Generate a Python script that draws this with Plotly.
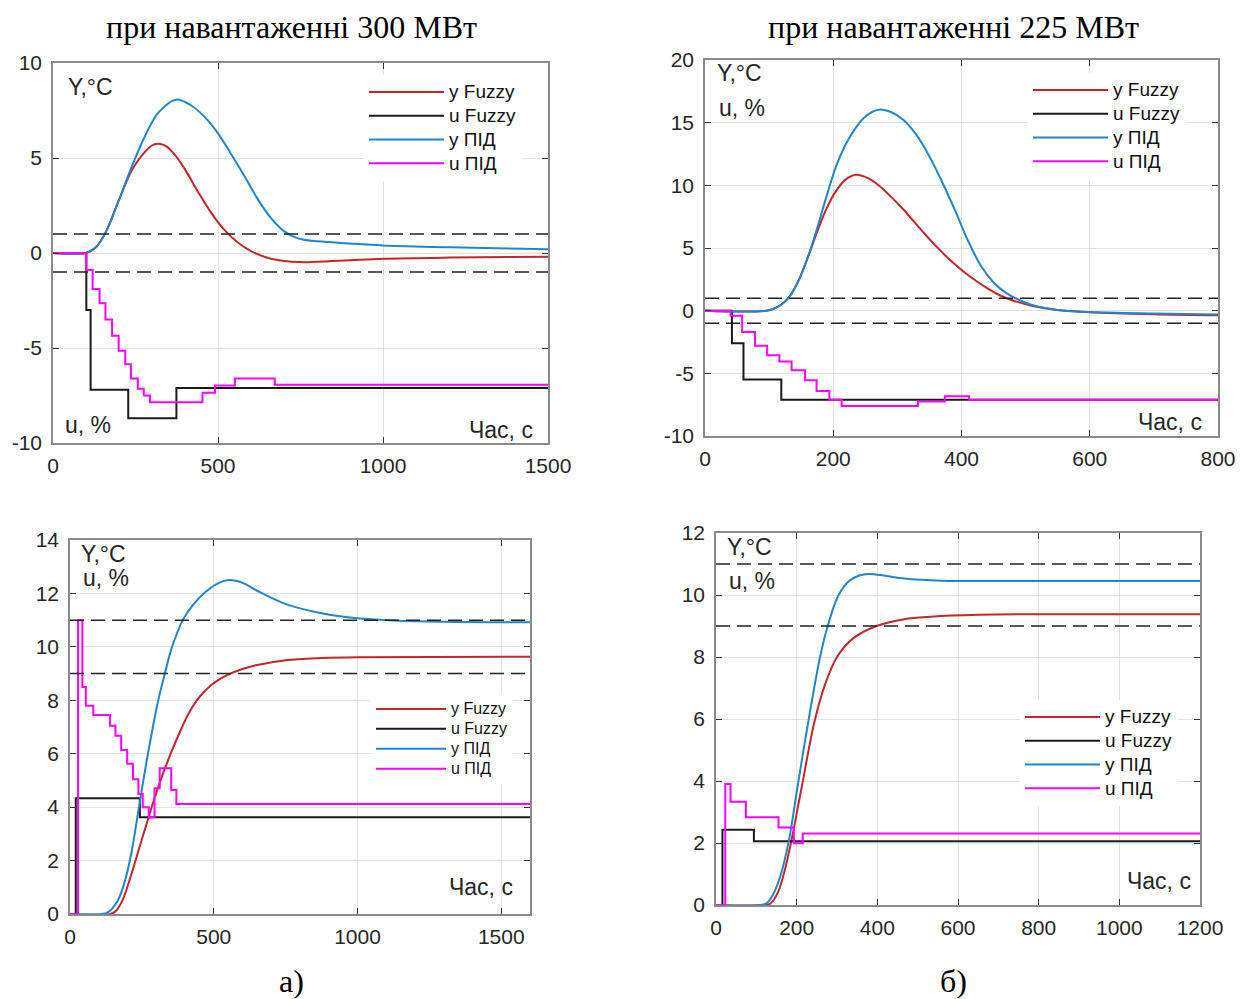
import plotly.graph_objects as go

# ---------------- DATA ----------------
# Panel a-top: 300 MW, disturbance
t1_range = [0, 1500]
y1_ticks = [-10, -5, 0, 5, 10]
y1_ticklabels = ["-10", "-5", "0", "5", "10"]
x1_ticks = [0, 500, 1000, 1500]
band1 = [-1, 1]
yfz1_t = [0, 100, 130, 160, 200, 240, 280, 305, 325, 345, 370, 400, 440, 480, 520, 560, 600, 650, 700, 750, 800, 900, 1000, 1200, 1500]
yfz1_v = [0, 0, 0.3, 1.1, 2.8, 4.4, 5.35, 5.7, 5.74, 5.6, 5.15, 4.4, 3.2, 2.1, 1.2, 0.55, 0.1, -0.25, -0.42, -0.48, -0.46, -0.38, -0.3, -0.24, -0.2]
ypid1_t = [0, 100, 130, 160, 200, 240, 280, 320, 372, 420, 460, 500, 540, 580, 620, 660, 700, 730, 760, 800, 900, 1000, 1200, 1500]
ypid1_v = [0, 0, 0.3, 1.1, 2.8, 4.6, 6.2, 7.4, 8.07, 7.75, 7.15, 6.3, 5.2, 4.05, 2.85, 1.85, 1.15, 0.85, 0.7, 0.62, 0.5, 0.4, 0.3, 0.2]
ufz1_t = [0, 101, 114, 228, 374, 1500]
ufz1_v = [0, -3.0, -7.2, -8.7, -7.1, -7.1]
upid1_t = [0, 101, 120, 141, 159, 179, 199, 219, 236, 257, 275, 294, 453, 491, 551, 672, 1500]
upid1_v = [0, -0.9, -1.9, -2.65, -3.5, -4.35, -5.15, -5.85, -6.6, -7.15, -7.5, -7.85, -7.35, -6.97, -6.6, -6.93, -6.93]

# Panel b-top: 225 MW, disturbance
t2_range = [0, 800]
y2_ticks = [-10, -5, 0, 5, 10, 15, 20]
y2_ticklabels = ["-10", "-5", "0", "5", "10", "15", "20"]
x2_ticks = [0, 200, 400, 600, 800]
band2 = [-1, 1]
yfz2_t = [0, 100, 115, 130, 145, 160, 175, 190, 205, 220, 236, 255, 272, 290, 308, 326, 344, 362, 380, 410, 440, 463, 487, 511, 550, 600, 700, 800]
yfz2_v = [0, 0.03, 0.35, 1.0, 2.3, 4.2, 6.3, 8.2, 9.6, 10.5, 10.85, 10.55, 9.95, 9.1, 8.15, 7.1, 6.05, 5.05, 4.15, 2.85, 1.8, 1.15, 0.7, 0.38, 0.05, -0.12, -0.28, -0.37]
ypid2_t = [0, 100, 115, 130, 145, 160, 175, 190, 205, 224, 248, 272, 290, 310, 330, 350, 370, 390, 410, 430, 450, 470, 490, 510, 550, 600, 700, 800]
ypid2_v = [0, 0.03, 0.35, 1.0, 2.3, 4.2, 6.6, 9.2, 11.6, 13.7, 15.4, 16.05, 15.85, 15.2, 14.0, 12.3, 10.25, 8.0, 5.6, 3.6, 2.25, 1.4, 0.85, 0.45, 0.05, -0.1, -0.22, -0.3]
ufz2_t = [0, 42, 60, 119, 800]
ufz2_v = [0, -2.6, -5.5, -7.1, -7.1]
upid2_t = [0, 40, 58, 78, 97, 116, 135, 156, 174, 194, 213, 332, 374, 412, 800]
upid2_v = [0, -0.4, -1.7, -2.8, -3.55, -4.05, -4.75, -5.55, -6.4, -7.1, -7.6, -7.25, -6.82, -7.1, -7.1]

# Panel a-bottom: 300 MW, setpoint step
t3_range = [0, 1600]
y3_ticks = [0, 2, 4, 6, 8, 10, 12, 14]
y3_ticklabels = ["0", "2", "4", "6", "8", "10", "12", "14"]
x3_ticks = [0, 500, 1000, 1500]
band3 = [9, 11]
yfz3_t = [0, 140, 160, 184, 205, 228, 250, 270, 290, 320, 352, 390, 415, 440, 465, 495, 525, 552, 600, 651, 751, 875, 1000, 1600]
yfz3_v = [0, 0, 0.12, 0.55, 1.2, 2.0, 2.8, 3.5, 4.2, 5.15, 6.05, 7.0, 7.55, 7.98, 8.3, 8.6, 8.82, 8.97, 9.17, 9.32, 9.5, 9.58, 9.61, 9.63]
ypid3_t = [0, 110, 130, 166, 190, 212, 234, 252, 271, 290, 309, 330, 352, 372, 392, 430, 471, 510, 552, 600, 651, 751, 875, 1000, 1125, 1300, 1600]
ypid3_v = [0, 0, 0.05, 0.5, 1.2, 2.2, 3.6, 4.8, 6.0, 7.1, 8.1, 9.0, 9.9, 10.5, 11.0, 11.6, 12.05, 12.35, 12.5, 12.4, 12.1, 11.6, 11.26, 11.07, 10.99, 10.94, 10.92]
ufz3_t = [0, 20, 243, 1600]
ufz3_v = [0, 4.33, 3.62, 3.62]
upid3_t = [0, 28, 43, 55, 81, 139, 158, 178, 199, 219, 238, 253, 274, 294, 312, 352, 370, 1600]
upid3_v = [0, 11.0, 8.5, 7.8, 7.45, 7.05, 6.67, 6.14, 5.62, 5.04, 4.49, 4.0, 3.62, 4.71, 5.46, 4.64, 4.12, 4.12]

# Panel b-bottom: 225 MW, setpoint step
t4_range = [0, 1200]
y4_ticks = [0, 2, 4, 6, 8, 10, 12]
y4_ticklabels = ["0", "2", "4", "6", "8", "10", "12"]
x4_ticks = [0, 200, 400, 600, 800, 1000, 1200]
band4 = [9, 11]
yfz4_t = [0, 120, 135, 155, 170, 185, 211, 244, 270, 300, 340, 398, 467, 533, 650, 800, 1200]
yfz4_v = [0, 0, 0.05, 0.45, 1.1, 1.95, 3.7, 5.9, 7.1, 8.0, 8.6, 9.0, 9.22, 9.3, 9.36, 9.38, 9.38]
ypid4_t = [0, 110, 125, 142, 160, 181, 202, 230, 258, 277, 304, 330, 355, 379, 420, 467, 561, 700, 1200]
ypid4_v = [0, 0, 0.05, 0.35, 0.95, 2.1, 3.8, 6.0, 8.0, 9.0, 10.0, 10.45, 10.63, 10.68, 10.62, 10.53, 10.46, 10.45, 10.45]
ufz4_t = [0, 16, 94, 1200]
ufz4_v = [0, 2.43, 2.06, 2.06]
upid4_t = [0, 23, 36, 74, 155, 193, 215, 1200]
upid4_v = [0, 3.9, 3.33, 2.83, 2.5, 1.99, 2.31, 2.31]

series_names = ["y Fuzzy", "u Fuzzy", "y ПІД", "u ПІД"]
titles = ["при навантаженні 300 МВт", "при навантаженні 225 МВт"]
sub_labels = ["а)", "б)"]
y_label = "Y,°C"
u_label = "u, %"
x_label = "Час, с"

# ---------------- STYLE ----------------
W, H = 1253, 999
OFF = 8  # page body margin: figure is drawn 8 px from the window corner
C_RED = "#c3262b"
C_BLACK = "#1a1a1a"
C_BLUE = "#2285c9"
C_MAG = "#ff00ff"
SANS = "Liberation Sans, Arial, sans-serif"
SERIF = "Liberation Serif, Times New Roman, serif"
TXT = "#262626"


def px(xp):
    return (xp - OFF) / W


def py(yp):
    return 1 - (yp - OFF) / H


# plot boxes in window pixels: (left, right, top, bottom)
boxes = [(53, 548, 63, 443), (705, 1218, 60, 436), (70, 530, 540, 914), (716, 1200, 533, 905)]

panels = [
    dict(tr=t1_range, yt=y1_ticks, yl=y1_ticklabels, xt=x1_ticks, band=band1,
         yfz=(yfz1_t, yfz1_v), ufz=(ufz1_t, ufz1_v), ypid=(ypid1_t, ypid1_v), upid=(upid1_t, upid1_v),
         legx=364, legy=75, legfs=16, legts=19, legiw=75,
         ann=[(y_label, 0.026, 0.937, "left"), (u_label, 0.020, 0.047, "left"), (x_label, 0.973, 0.034, "right")]),
    dict(tr=t2_range, yt=y2_ticks, yl=y2_ticklabels, xt=x2_ticks, band=band2,
         yfz=(yfz2_t, yfz2_v), ufz=(ufz2_t, ufz2_v), ypid=(ypid2_t, ypid2_v), upid=(upid2_t, upid2_v),
         legx=1028, legy=73, legfs=16, legts=19, legiw=75,
         ann=[(y_label, 0.019, 0.965, "left"), (u_label, 0.023, 0.872, "left"), (x_label, 0.973, 0.037, "right")]),
    dict(tr=t3_range, yt=y3_ticks, yl=y3_ticklabels, xt=x3_ticks, band=band3,
         yfz=(yfz3_t, yfz3_v), ufz=(ufz3_t, ufz3_v), ypid=(ypid3_t, ypid3_v), upid=(upid3_t, upid3_v),
         legx=371, legy=694, legfs=13, legts=16, legiw=70,
         ann=[(y_label, 0.020, 0.963, "left"), (u_label, 0.024, 0.898, "left"), (x_label, 0.967, 0.072, "right")]),
    dict(tr=t4_range, yt=y4_ticks, yl=y4_ticklabels, xt=x4_ticks, band=band4,
         yfz=(yfz4_t, yfz4_v), ufz=(ufz4_t, ufz4_v), ypid=(ypid4_t, ypid4_v), upid=(upid4_t, upid4_v),
         legx=1020, legy=700, legfs=16, legts=19, legiw=75,
         ann=[(y_label, 0.019, 0.962, "left"), (u_label, 0.023, 0.871, "left"), (x_label, 0.986, 0.065, "right")]),
]

fig = go.Figure()
layout = dict(width=W, height=H, margin=dict(l=0, r=0, t=0, b=0, autoexpand=False),
              paper_bgcolor="white", plot_bgcolor="white", annotations=[])

for i, p in enumerate(panels):
    n = i + 1
    xs = "" if n == 1 else str(n)
    xa, ya = "x" + xs, "y" + xs
    leg = "legend" + xs
    l, r, t, b = boxes[i]

    def add(tv, name, color, shape, width=2.0):
        fig.add_trace(go.Scatter(
            x=tv[0], y=tv[1], mode="lines", xaxis=xa, yaxis=ya, legend=leg,
            name="<span style='font-size:%dpx'>%s</span>" % (p["legts"], name),
            line=dict(color=color, width=width, shape=shape,
                      smoothing=1.0 if shape == "spline" else None)))

    add(p["yfz"], series_names[0], C_RED, "spline")
    add(p["ufz"], series_names[1], C_BLACK, "hv")
    add(p["ypid"], series_names[2], C_BLUE, "spline")
    add(p["upid"], series_names[3], C_MAG, "hv")
    for bv in p["band"]:
        fig.add_trace(go.Scatter(x=p["tr"], y=[bv, bv], mode="lines", showlegend=False,
                                 xaxis=xa, yaxis=ya, hoverinfo="skip",
                                 line=dict(color="#222222", width=1.5, dash="14px,7px")))

    axcommon = dict(showline=True, linecolor="#8a8a8a", linewidth=1.5, mirror="ticks",
                    ticks="inside", ticklen=6, tickwidth=1.2, tickcolor="#333333",
                    showgrid=True, gridcolor="#e3e3e3", gridwidth=1, zeroline=False,
                    automargin=False,
                    tickfont=dict(family=SANS, size=21, color=TXT))
    layout["xaxis" + xs] = dict(axcommon, domain=[px(l), px(r)], range=p["tr"], anchor=ya,
                                tickmode="array", tickvals=p["xt"], ticklabelstandoff=3,
                                ticktext=[str(v) for v in p["xt"]])
    layout["yaxis" + xs] = dict(axcommon, domain=[py(b), py(t)],
                                range=[p["yt"][0], p["yt"][-1]], anchor=xa, ticklabelstandoff=5,
                                tickmode="array", tickvals=p["yt"], ticktext=p["yl"])
    layout[leg] = dict(x=px(p["legx"]), y=py(p["legy"]), xanchor="left", yanchor="top",
                       bgcolor="white", borderwidth=0, itemwidth=p["legiw"],
                       font=dict(family=SANS, size=p["legfs"], color="#111111"),
                       tracegroupgap=0)
    for txt, fx, fy, anc in p["ann"]:
        layout["annotations"].append(dict(text=txt, xref=xa + " domain", yref=ya + " domain",
                                          x=fx, y=fy, xanchor=anc, yanchor="middle", showarrow=False,
                                          font=dict(family=SANS, size=23, color=TXT)))

for k, (cx, title, sub) in enumerate(zip([291, 953], titles, sub_labels)):
    layout["annotations"].append(dict(text=title, xref="paper", yref="paper", x=px(cx), y=1.0,
                                      xanchor="center", yanchor="top", showarrow=False, borderpad=0,
                                      font=dict(family=SERIF, size=32, color="black")))
    layout["annotations"].append(dict(text=sub, xref="paper", yref="paper", x=px(cx), y=py(981),
                                      xanchor="center", yanchor="middle", showarrow=False,
                                      font=dict(family=SERIF, size=32, color="black")))

fig.update_layout(**layout)
fig.write_html("out.html")
